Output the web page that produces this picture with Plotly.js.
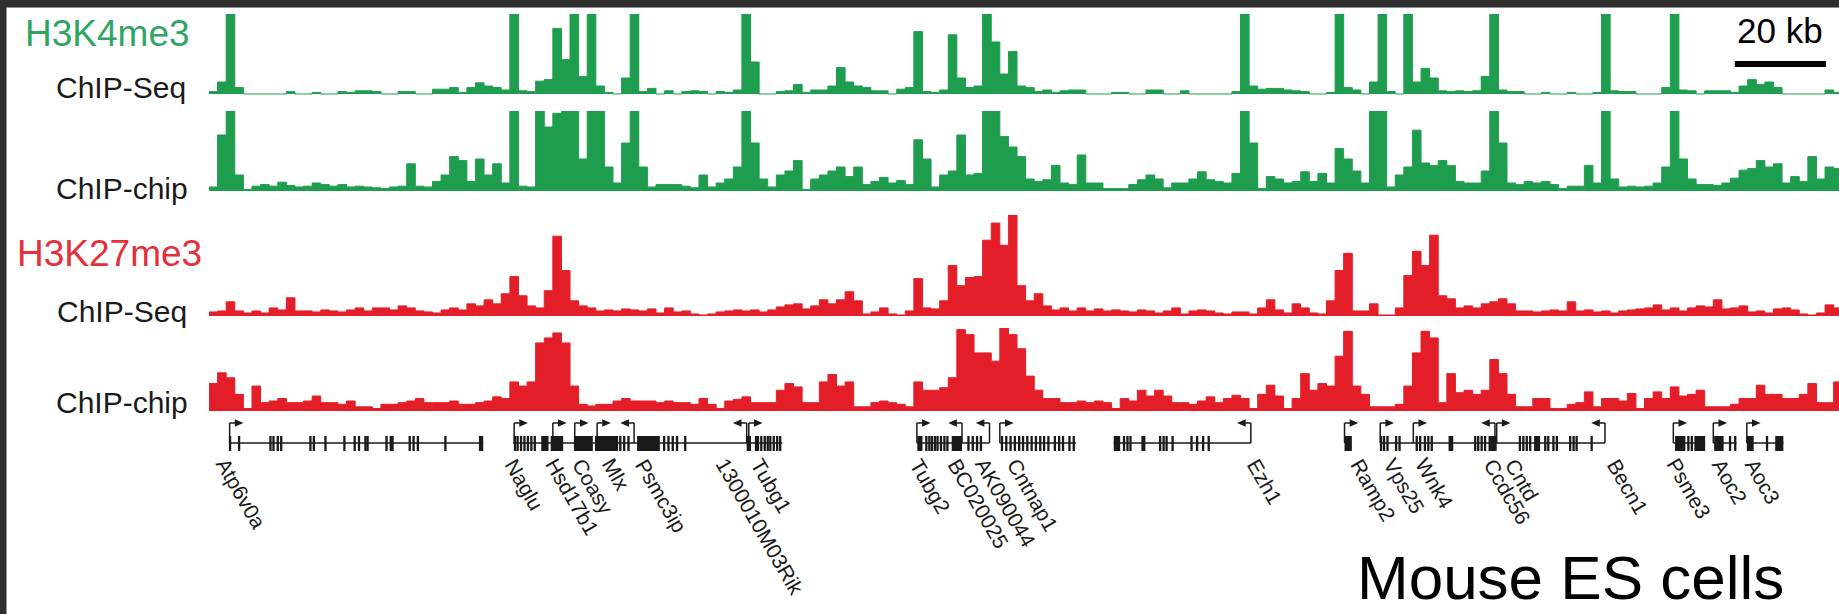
<!DOCTYPE html>
<html><head><meta charset="utf-8">
<script src="https://cdn.plot.ly/plotly-3.0.1.min.js"></script>
<style>html,body{margin:0;padding:0;background:#fff;overflow:hidden}</style>
</head><body><div id="chart" style="width:1839px;height:614px"></div>
<script>
// ---------- DATA (genomic position in kb, 2 kb bins; signal as % of track height) ----------
const binKb = 2;
const k4Seq = [
3,15,100,8,0,0,0,0,0,3, 0,0,2,0,0,3,2,4,4,3, 0,0,3,3,0,0,6,6,8,2, 8,14,10,8,5,100,4,3,16,18,
82,43,100,22,100,10,2,0,20,100, 3,7,0,4,0,3,4,3,0,3, 2,5,100,40,0,0,3,4,12,2, 5,5,10,33,15,10,8,4,4,0,
6,8,78,3,2,5,74,20,8,10, 100,65,25,53,10,8,3,5,2,4, 5,5,0,0,0,2,2,0,0,5, 5,0,0,4,0,0,0,0,0,3,
100,10,6,7,7,5,4,3,0,0, 2,100,8,5,0,15,100,3,0,100, 15,32,20,4,3,4,3,4,22,100, 5,3,3,0,0,2,0,0,2,0,
0,2,100,4,3,3,0,0,0,8, 100,5,4,0,4,4,4,2,10,18, 12,15,8,0,0,0,0,0,5,2];
const k4Chip = [
5,70,100,20,2,6,8,6,11,7, 5,6,10,8,6,8,5,6,5,4, 3,5,6,34,6,5,12,20,43,38, 12,40,20,34,10,100,6,5,100,80,
97,100,100,40,100,100,30,10,60,100, 30,5,8,8,8,6,4,20,5,10, 15,30,100,60,15,5,20,25,38,2, 15,20,25,30,18,30,8,12,17,10,
13,8,64,40,5,20,25,70,20,22, 100,100,68,55,43,15,12,14,32,10, 8,45,10,10,3,3,3,8,14,20, 15,4,10,10,15,24,14,12,10,22,
100,60,3,18,15,10,12,24,12,22, 10,53,40,25,10,100,100,5,20,30, 76,35,32,38,32,12,10,10,25,100, 60,10,8,12,10,12,8,3,6,6,
32,10,100,15,5,6,5,6,10,30, 100,40,15,8,8,7,10,16,26,28, 38,30,34,10,18,12,43,15,30,28];
const k27Seq = [
4,5,14,5,3,5,3,8,6,18, 5,5,4,6,5,4,6,8,5,8, 8,6,10,8,5,4,3,6,8,6, 12,10,16,12,22,39,20,10,8,25,
79,45,15,10,8,5,6,5,7,6, 5,7,3,8,4,5,2,1,2,4, 5,6,5,6,4,6,9,11,12,7, 10,16,12,16,24,15,2,4,8,2,
1,5,37,8,7,15,50,30,38,39, 75,92,70,100,30,15,22,10,6,8, 5,8,5,7,5,6,5,4,6,5, 3,5,8,2,5,6,5,3,2,4,
4,2,8,16,6,3,12,8,3,2, 15,45,62,5,5,12,1,1,8,40, 64,50,80,20,17,8,10,8,12,14, 17,12,5,5,4,5,6,5,14,5,
6,4,5,3,5,6,7,8,11,6, 8,5,8,10,9,16,7,8,10,4, 5,3,7,8,6,2,1,3,11,8];
const k27Chip = [
33,46,40,20,3,30,10,12,15,10, 10,12,18,10,10,8,12,5,5,3, 8,8,10,12,15,10,10,10,12,8, 8,10,12,17,15,35,30,35,82,88,
94,82,30,8,6,8,8,12,15,12, 12,12,10,12,10,10,8,15,8,3, 12,14,17,10,10,10,25,33,29,10, 10,35,44,30,35,5,5,10,12,10,
8,5,35,25,25,28,40,98,92,70, 70,60,100,92,75,42,25,15,15,10, 10,12,10,12,10,3,15,12,25,18, 25,18,10,10,8,12,17,10,15,19,
15,3,20,31,18,3,15,45,25,33, 30,66,96,30,20,5,5,5,8,30, 70,96,88,10,45,22,25,20,25,62, 45,20,5,5,15,15,3,3,8,10,
23,5,15,15,12,21,3,15,23,15, 29,18,20,25,5,5,5,8,15,15, 31,20,20,15,15,20,33,10,10,35];

const geneNames = ["Atp6v0a","Naglu","Hsd17b1","Coasy","Mlx","Psmc3ip","1300010M03Rik","Tubg1","Tubg2","BC020025","AK090044","Cntnap1","Ezh1","Ramp2","Vps25","Wnk4","Ccdc56","Cntd","Becn1","Psme3","Aoc2","Aoc3"];
const geneTss    = [4.8,71.0,80.0,85.1,90.3,98.9,125.1,125.6,164.7,175.2,181.6,184.0,242.4,264.2,272.5,280.2,299.2,299.6,324.8,340.7,350.0,357.8];
const geneStrand = [1,1,1,1,1,-1,-1,1,1,-1,-1,1,-1,1,1,1,-1,1,-1,1,1,1];
const labelKb    = [0.0,67.2,76.6,82.9,89.8,97.5,116.3,124.6,161.5,170.3,176.6,184.0,239.9,263.8,271.7,279.0,295.0,299.9,323.6,337.6,348.1,355.8];
const segStart = [4.8,70.7,164.7,184.0,210.5,272.5,340.7,350.0,357.8];
const segEnd   = [63.8,133.4,181.6,201.7,242.4,324.8,348.1,355.4,366.3];
const blockStart = [62.8,77.3,79.5,84.9,89.8,99.6,125.1,127.0,164.8,172.8,210.5,264.2,288.4,297.7,308.3,341.1,345.6,350.2,357.8,364.4];
const blockEnd   = [63.8,79.0,82.4,89.3,95.2,104.9,126.1,128.0,166.0,175.2,212.0,265.9,289.5,299.6,309.7,343.5,348.1,352.4,359.4,366.3];
const exonTicks = [4.9,7.0,14.3,15.0,16.0,16.8,23.6,24.4,27.1,31.5,33.9,34.9,36.4,36.9,41.3,42.3,42.7,46.7,47.6,48.6,55.0,
71.2,71.8,72.6,73.4,74.2,75.0,75.8,95.7,96.6,97.6,105.9,106.9,107.9,108.9,110.8,128.5,129.3,130.0,130.6,131.4,132.2,132.9,
166.9,167.6,168.2,168.9,169.5,170.3,171.1,171.8,176.7,177.7,178.7,179.6,
184.5,185.5,186.5,187.5,188.5,189.4,190.4,191.4,192.4,193.4,194.3,195.3,196.8,197.8,198.7,200.2,201.2,
212.9,213.7,214.4,217.2,217.6,221.3,222.1,222.8,224.2,228.6,229.9,231.3,232.6,
272.7,273.4,274.2,276.2,277.0,281.0,281.8,282.9,283.7,284.5,294.6,295.3,296.1,296.9,
305.0,305.8,306.6,307.4,310.9,311.6,312.8,313.6,316.7,317.5,318.2,321.7,344.2,345.0,353.9,355.1,362.5];
const scaleBarKb = 20;

// ---------- LAYOUT ----------
const W = 1839, H = 614;
const X0PX = 209, PX_PER_KB = 4.298;
const GREEN = '#1f9d4f', RED = '#e41e28', INK = '#1a1a1a';
const FONT = 'Liberation Sans, Arial, Helvetica, sans-serif';
function dom(t, b) { return [1 - b / H, 1 - t / H]; }
function px(p) { return p / W; }
function py(p) { return 1 - p / H; }
function steps(vals) {
  const x = [], y = [];
  vals.forEach((v, i) => { x.push(i * binKb); y.push(v); });
  x.push(vals.length * binKb); y.push(vals[vals.length - 1]);
  return {x, y};
}
const tracks = [
  {vals: k4Seq, ax: 'y', color: GREEN},
  {vals: k4Chip, ax: 'y2', color: GREEN},
  {vals: k27Seq, ax: 'y3', color: RED},
  {vals: k27Chip, ax: 'y4', color: RED}
];
const data = tracks.map(t => {
  const s = steps(t.vals);
  return {type: 'scatter', mode: 'lines', x: s.x, y: s.y, xaxis: 'x', yaxis: t.ax,
    line: {shape: 'hv', width: 1, color: t.color}, fill: 'tozeroy', fillcolor: t.color, hoverinfo: 'skip'};
});
data.push({type: 'scatter', mode: 'markers', x: [0], y: [0], xaxis: 'x', yaxis: 'y5', marker: {opacity: 0}, hoverinfo: 'skip'});

const shapes = [];
const G = {xref: 'x', yref: 'y5'};
const LINE_Y = 33, EX_TOP = 26, EX_BOT = 41, ARR_Y = 13;
segStart.forEach((s, i) => shapes.push(Object.assign({type: 'line', x0: s, x1: segEnd[i], y0: LINE_Y, y1: LINE_Y, line: {color: INK, width: 1.5}}, G)));
exonTicks.forEach(t => shapes.push(Object.assign({type: 'rect', x0: t - 0.27, x1: t + 0.27, y0: EX_TOP, y1: EX_BOT, fillcolor: INK, line: {width: 0}}, G)));
blockStart.forEach((s, i) => shapes.push(Object.assign({type: 'rect', x0: s, x1: blockEnd[i], y0: EX_TOP, y1: EX_BOT, fillcolor: INK, line: {width: 0}}, G)));
geneTss.forEach((t, i) => {
  const d = geneStrand[i];
  shapes.push(Object.assign({type: 'line', x0: t, x1: t, y0: LINE_Y, y1: ARR_Y, line: {color: INK, width: 1.5}}, G));
  shapes.push(Object.assign({type: 'line', x0: t, x1: t + d * 1.3, y0: ARR_Y, y1: ARR_Y, line: {color: INK, width: 1.5}}, G));
  const a = t + d * 1.2, b = t + d * 3.2;
  shapes.push(Object.assign({type: 'path', path: `M${a},${ARR_Y - 3.8} L${b},${ARR_Y} L${a},${ARR_Y + 3.8} Z`, fillcolor: INK, line: {width: 0}}, G));
});
// scale bar (20 kb) in data units
const sbStart = 355.0;
shapes.push({type: 'rect', xref: 'x', yref: 'paper', x0: sbStart, x1: sbStart + scaleBarKb * 1.06, y0: py(67), y1: py(61), fillcolor: '#000', line: {width: 0}});
// dark frame strips
shapes.push({type: 'rect', xref: 'paper', yref: 'paper', x0: 0, x1: px(6.5), y0: 0, y1: 1, fillcolor: '#2f2f2f', line: {width: 0}, layer: 'above'});
shapes.push({type: 'rect', xref: 'paper', yref: 'paper', x0: 0, x1: 1, y0: py(7.5), y1: 1, fillcolor: '#2f2f2f', line: {width: 0}, layer: 'above'});

const ann = [];
function txt(text, x, y, size, color, xa, extra) {
  ann.push(Object.assign({text, x: px(x), y: py(y), xref: 'paper', yref: 'paper', showarrow: false,
    xanchor: xa, yanchor: 'middle', font: {family: FONT, size, color}}, extra || {}));
}
txt('H3K4me3', 23, 33.5, 37, '#2ea563', 'left');
txt('H3K27me3', 15, 254, 37, '#e3303b', 'left');
txt('ChIP-Seq', 188, 87, 30, INK, 'right');
txt('ChIP-chip', 190, 188, 30, INK, 'right');
txt('ChIP-Seq', 189, 311, 30, INK, 'right');
txt('ChIP-chip', 190, 402.5, 30, INK, 'right');
txt('20 kb', 1780, 30.5, 35, '#000', 'center');
txt('Mouse ES cells', 1570, 613, 62, '#000', 'center', {yanchor: 'bottom', borderpad: 0});
geneNames.forEach((g, i) => ann.push({text: g, x: labelKb[i], y: 42, xref: 'x', yref: 'y5', showarrow: false,
  xanchor: 'left', yanchor: 'top', textangle: 60, font: {family: FONT, size: 21, color: INK}}));

const yBase = {visible: false, fixedrange: true, anchor: 'x', range: [-1.5, 100]};
const layout = {
  width: W, height: H, margin: {l: 0, r: 0, t: 0, b: 0, pad: 0},
  paper_bgcolor: '#ffffff', plot_bgcolor: 'rgba(0,0,0,0)', showlegend: false, hovermode: false,
  xaxis: {domain: [X0PX / W, 1], range: [0, (W - X0PX) / PX_PER_KB], visible: false, fixedrange: true},
  yaxis:  Object.assign({}, yBase, {domain: dom(14, 95.2)}),
  yaxis2: Object.assign({}, yBase, {domain: dom(111, 192.2)}),
  yaxis3: Object.assign({}, yBase, {domain: dom(215, 317.5)}),
  yaxis4: Object.assign({}, yBase, {domain: dom(328, 412.2)}),
  yaxis5: {visible: false, fixedrange: true, anchor: 'x', domain: dom(410, 470), range: [60, 0]},
  shapes, annotations: ann
};
Plotly.newPlot('chart', data, layout, {staticPlot: true, displayModeBar: false});
</script></body></html>
